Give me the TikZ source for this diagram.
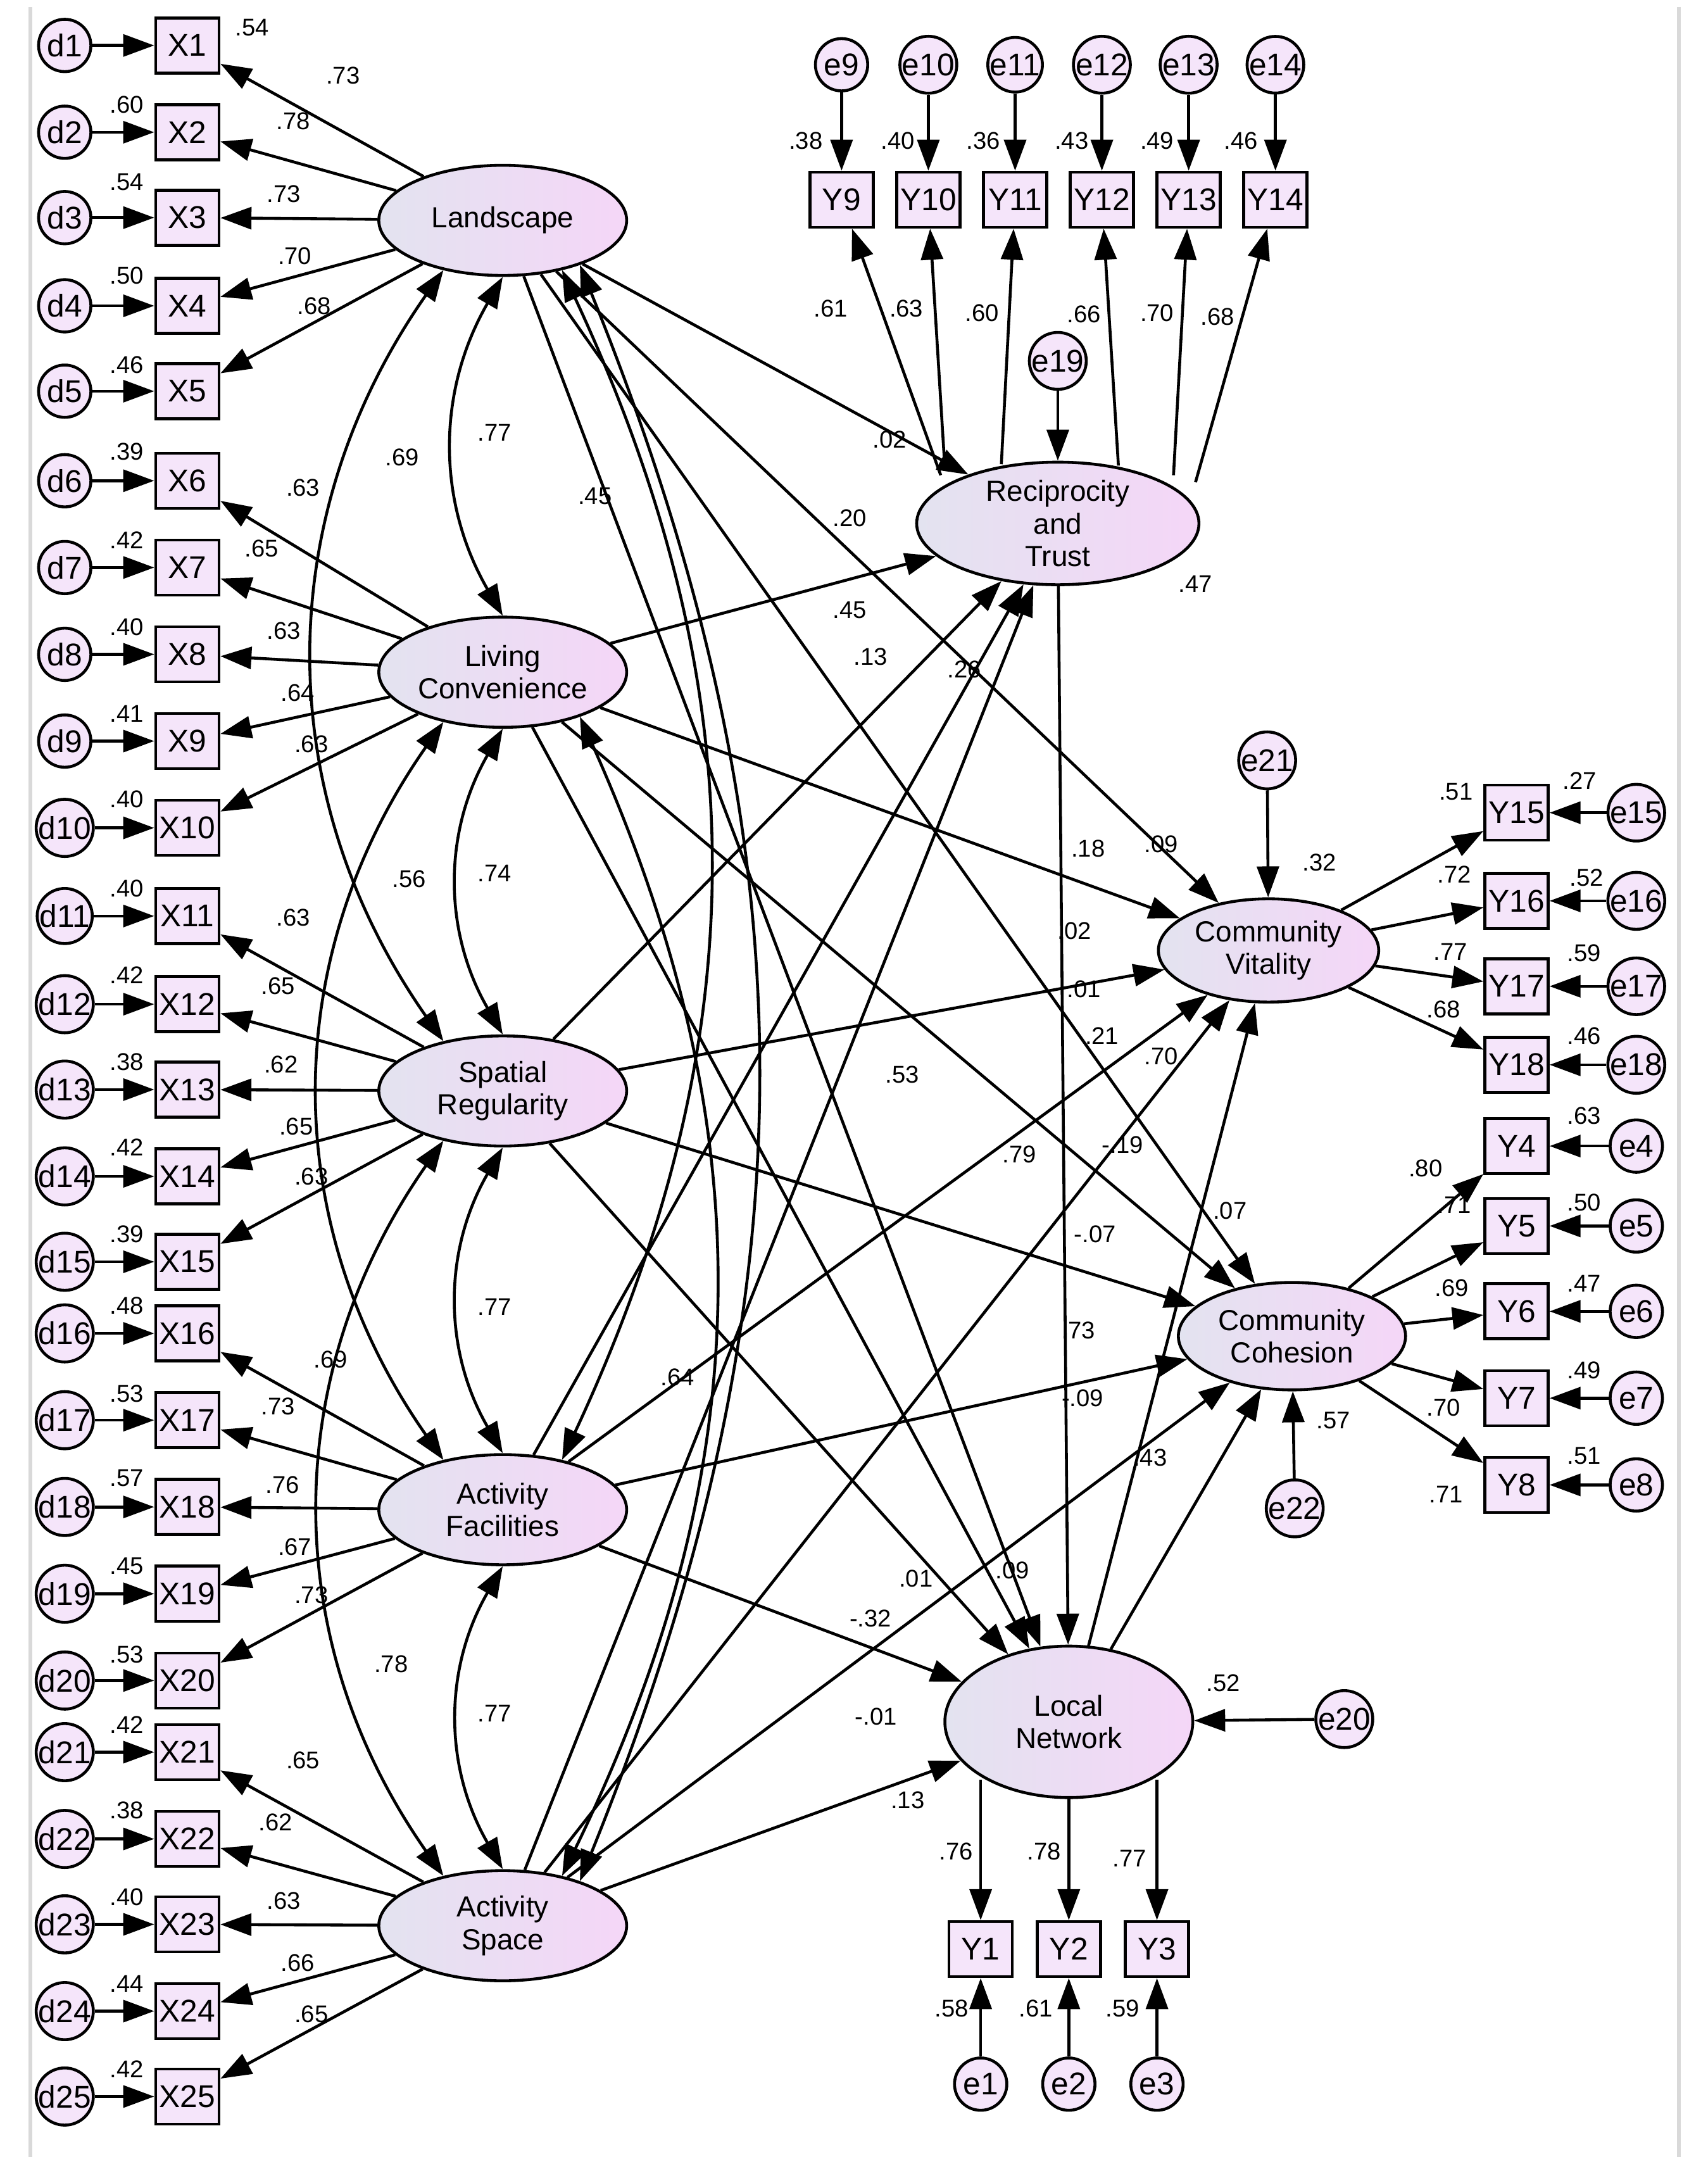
\documentclass[tikz,border=0pt]{standalone}
\usepackage{fontspec}
\setmainfont{Liberation Sans}
\usetikzlibrary{shapes.geometric,arrows.meta}
\definecolor{latL}{rgb}{0.89,0.89,0.94}
\definecolor{latR}{rgb}{0.96,0.84,0.97}
\definecolor{obsF}{rgb}{0.96,0.90,0.98}
\begin{document}
\begin{tikzpicture}[x=0.02cm,y=-0.02cm,line width=1.2pt,
 lat/.style={ellipse,draw,left color=latL,right color=latR,font=\fontsize{12}{13.5}\selectfont,align=center,inner sep=0},
 obs/.style={rectangle,draw,fill=obsF,minimum width=0.92cm,minimum height=0.8cm,font=\fontsize{13}{14}\selectfont,inner sep=0},
 err/.style={circle,draw,fill=obsF,minimum size=0.76cm,inner sep=0,font=\fontsize{13}{14}\selectfont},
 ar/.style={-{Triangle[length=0.45cm,width=0.32cm]}},
 cov/.style={{Triangle[length=0.45cm,width=0.32cm]}-{Triangle[length=0.45cm,width=0.32cm]}},
 lb/.style={font=\fontsize{10}{11}\selectfont,inner sep=0}]
\useasboundingbox (0,0) rectangle (1240,1571);
\draw[gray!30,line width=1.5pt] (22,5)--(22,1566) (1219,5)--(1219,1566);
% latents
\node[lat,minimum width=3.6cm,minimum height=1.6cm] (L1) at (365,160) {Landscape};
\node[lat,minimum width=3.6cm,minimum height=1.6cm] (L2) at (365,488) {Living\\Convenience};
\node[lat,minimum width=3.6cm,minimum height=1.6cm] (L3) at (365,792) {Spatial\\Regularity};
\node[lat,minimum width=3.6cm,minimum height=1.6cm] (L4) at (365,1096) {Activity\\Facilities};
\node[lat,minimum width=3.6cm,minimum height=1.6cm] (L5) at (365,1398) {Activity\\Space};
\node[lat,minimum width=4.1cm,minimum height=1.76cm] (RT) at (768,380) {Reciprocity\\and\\Trust};
\node[lat,minimum width=3.2cm,minimum height=1.5cm] (CV) at (921,690) {Community\\Vitality};
\node[lat,minimum width=3.3cm,minimum height=1.56cm] (CC) at (938,970) {Community\\Cohesion};
\node[lat,minimum width=3.6cm,minimum height=2.2cm] (LN) at (776,1250) {Local\\Network};
% X indicators
\foreach \i/\y in {1/33,2/96,3/158,4/222,5/284,6/349,7/412,8/475,9/538,10/601,11/665,12/729,13/791,14/854,15/916,16/968,17/1031,18/1094,19/1157,20/1220,21/1272,22/1335,23/1397,24/1460,25/1522}{
  \pgfmathtruncatemacro{\k}{int((\i-1)/5)+1}
  \node[obs] (X\i) at (136,\y) {X\i};
  \node[err] (d\i) at (47,\y) {d\i};
  \draw[ar] (d\i) -- (X\i);
  \draw[ar] (L\k) -- (X\i);
}
% Y9-14
\foreach \i/\x/\sx/\sy in {9/611/683/345,10/674/686/340,11/737/727/337,12/800/812/338,13/863/852/345,14/926/868/350}{
  \node[obs] (Y\i) at (\x,145) {Y\i};
  \node[err] (e\i) at (\x,47) {e\i};
  \coordinate (rt\i) at (\sx,\sy);
  \draw[ar] (e\i) -- (Y\i);
  \draw[ar] (rt\i) -- (Y\i);
}
\node[err] (e19) at (768,262) {e19};
\draw[ar] (e19) -- (RT);
% Y15-18
\foreach \i/\y in {15/590,16/654,17/716,18/773}{
  \node[obs] (Y\i) at (1101,\y) {Y\i};
  \node[err] (e\i) at (1188,\y) {e\i};
  \draw[ar] (e\i) -- (Y\i);
  \draw[ar] (CV) -- (Y\i);
}
\node[err] (e21) at (920,552) {e21};
\draw[ar] (e21) -- (CV);
% Y4-8
\foreach \i/\y in {4/832,5/890,6/952,7/1015,8/1078}{
  \node[obs] (Y\i) at (1101,\y) {Y\i};
  \node[err] (e\i) at (1188,\y) {e\i};
  \draw[ar] (e\i) -- (Y\i);
  \draw[ar] (CC) -- (Y\i);
}
\node[err] (e22) at (940,1095) {e22};
\draw[ar] (e22) -- (CC);
% Y1-3
\foreach \i/\x/\sy in {1/712/1292,2/776/1305,3/840/1292}{
  \node[obs] (Y\i) at (\x,1415) {Y\i};
  \node[err] (e\i) at (\x,1513) {e\i};
  \coordinate (ln\i) at (\x,\sy);
  \draw[ar] (e\i) -- (Y\i);
  \draw[ar] (ln\i) -- (Y\i);
}
\node[err] (e20) at (976,1248) {e20};
\draw[ar] (e20) -- (LN);
% structural
\foreach \s in {L1,L2,L3,L4,L5}{
  \foreach \t in {RT,CV,CC,LN}{\draw[ar] (\s) -- (\t);}
}
\draw[ar] (RT) -- (LN);
\draw[ar] (LN) -- (CV);
\draw[ar] (LN) -- (CC);
% covariances
\draw[cov] (L1.south) to[bend right=30] (L2.north);
\draw[cov] (L2.south) to[bend right=30] (L3.north);
\draw[cov] (L3.south) to[bend right=30] (L4.north);
\draw[cov] (L4.south) to[bend right=30] (L5.north);
\draw[cov] (L1.220) to[bend right=35] (L3.140);
\draw[cov] (L2.220) to[bend right=35] (L4.140);
\draw[cov] (L3.220) to[bend right=35] (L5.140);
\draw[cov] (L1.320) to[bend left=25] (L4.40);
\draw[cov] (L1.330) to[bend left=22] (L5.30);
\draw[cov] (L2.330) to[bend left=25] (L5.40);
% labels
\foreach \x/\y/\t in {249/55/.73,213/88/.78,206/141/.73,214/186/.70,228/222/.68,220/354/.63,190/398/.65,206/458/.63,216/503/.64,226/540/.63,213/666/.63,202/716/.65,204/773/.62,215/818/.65,226/854/.63,240/987/.69,202/1021/.73,205/1078/.76,214/1123/.67,226/1158/.73,220/1278/.65,200/1323/.62,206/1380/.63,216/1425/.66,226/1462/.65,
183/20/.54,92/76/.60,92/132/.54,92/200/.50,92/265/.46,92/328/.39,92/392/.42,92/455/.40,92/518/.41,92/580/.40,92/645/.40,92/708/.42,92/771/.38,92/833/.42,92/896/.39,92/948/.48,92/1012/.53,92/1073/.57,92/1137/.45,92/1201/.53,92/1252/.42,92/1314/.38,92/1377/.40,92/1440/.44,92/1502/.42,
359/314/.77,292/332/.69,432/360/.45,359/634/.74,297/638/.56,359/949/.77,655/780/.53,492/1000/.64,284/1208/.78,359/1244/.77,
603/224/.61,658/224/.63,713/227/.60,787/228/.66,840/227/.70,884/230/.68,585/102/.38,652/102/.40,714/102/.36,778/102/.43,840/102/.49,901/102/.46,868/424/.47,
646/319/.02,617/376/.20,617/443/.45,632/477/.13,700/486/.26,790/616/.18,843/613/.09,780/676/.02,787/718/.01,800/752/.21,843/767/.70,740/838/.79,815/831/-.19,795/896/-.07,893/879/.07,783/966/.73,786/1015/-.09,835/1058/.43,665/1146/.01,735/1140/.09,632/1175/-.32,636/1246/-.01,659/1307/.13,
958/626/.32,1057/575/.51,1056/635/.72,1053/691/.77,1048/733/.68,1147/567/.27,1152/637/.52,1150/692/.59,1150/752/.46,
968/1031/.57,1035/848/.80,1056/875/.71,1054/935/.69,1048/1022/.70,1050/1085/.71,1150/810/.63,1150/873/.50,1150/932/.47,1150/995/.49,1150/1057/.51,
888/1222/.52,694/1344/.76,758/1344/.78,820/1349/.77,691/1458/.58,752/1458/.61,815/1458/.59}{
  \node[lb] at (\x,\y) {\t};
}
\end{tikzpicture}
\end{document}
